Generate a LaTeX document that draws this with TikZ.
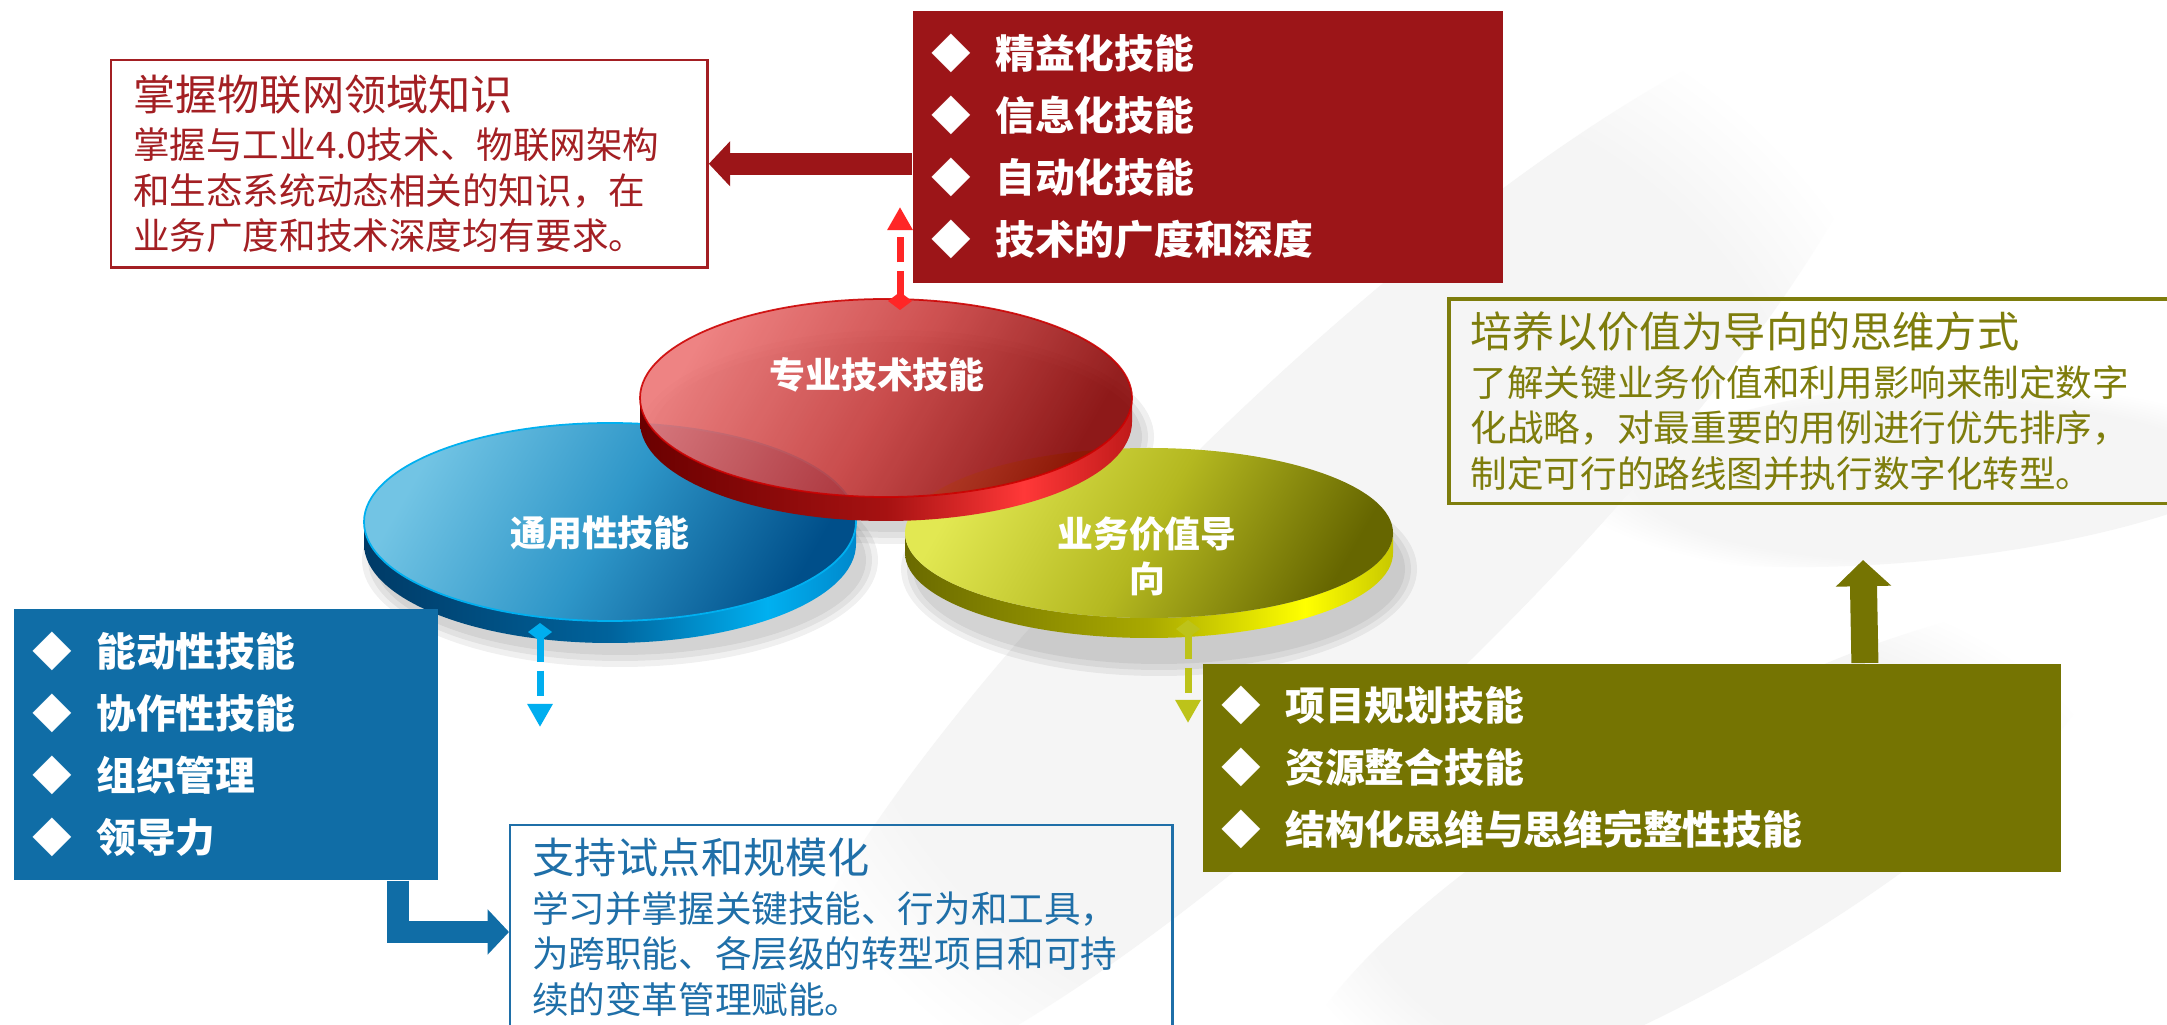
\documentclass[tikz,border=0pt]{standalone}
\usepackage{fontspec}
\setmainfont{Noto Sans CJK SC}
\usetikzlibrary{arrows.meta,calc,fadings}

\definecolor{techred}{HTML}{9C1518}
\definecolor{techline}{HTML}{A31F23}
\definecolor{techdash}{HTML}{FF2626}
\definecolor{genblue}{HTML}{106DA6}
\definecolor{genline}{HTML}{1F6FA8}
\definecolor{gendash}{HTML}{00AEEF}
\definecolor{valolive}{HTML}{757402}
\definecolor{valline}{HTML}{7E7D0C}
\definecolor{valdash}{HTML}{BDC31A}

% disc colours: face light / dark, rim dark / mid / bright / end
\definecolor{redfaceA}{HTML}{EC7272}
\definecolor{redfaceM}{HTML}{C83A3A}
\definecolor{redfaceB}{HTML}{850000}
\definecolor{redrimA}{HTML}{6A0000}
\definecolor{redrimB}{HTML}{A61212}
\definecolor{redrimC}{HTML}{FF3838}
\definecolor{redrimD}{HTML}{C01A1A}
\definecolor{bluefaceA}{HTML}{72C4E4}
\definecolor{bluefaceM}{HTML}{2E96C8}
\definecolor{bluefaceB}{HTML}{004F8A}
\definecolor{bluerimA}{HTML}{003A66}
\definecolor{bluerimB}{HTML}{00639C}
\definecolor{bluerimC}{HTML}{00B0F0}
\definecolor{bluerimD}{HTML}{0088CC}
\definecolor{olivefaceA}{HTML}{E2E852}
\definecolor{olivefaceM}{HTML}{B4B820}
\definecolor{olivefaceB}{HTML}{666600}
\definecolor{oliverimA}{HTML}{6A6A00}
\definecolor{oliverimB}{HTML}{A9A900}
\definecolor{oliverimC}{HTML}{FFFF00}
\definecolor{oliverimD}{HTML}{C8C800}

\pgfdeclarehorizontalshading{redface}{100bp}{color(0bp)=(redfaceA); color(25bp)=(redfaceA); color(50bp)=(redfaceM); color(75bp)=(redfaceB); color(100bp)=(redfaceB)}
\pgfdeclarehorizontalshading{blueface}{100bp}{color(0bp)=(bluefaceA); color(25bp)=(bluefaceA); color(50bp)=(bluefaceM); color(75bp)=(bluefaceB); color(100bp)=(bluefaceB)}
\pgfdeclarehorizontalshading{oliveface}{100bp}{color(0bp)=(olivefaceA); color(25bp)=(olivefaceA); color(50bp)=(olivefaceM); color(75bp)=(olivefaceB); color(100bp)=(olivefaceB)}
\pgfdeclarehorizontalshading{redrim}{100bp}{color(0bp)=(redrimA); color(25bp)=(redrimA); color(50bp)=(redrimB); color(64bp)=(redrimC); color(75bp)=(redrimD); color(100bp)=(redrimD)}
\pgfdeclarehorizontalshading{bluerim}{100bp}{color(0bp)=(bluerimA); color(25bp)=(bluerimA); color(50bp)=(bluerimB); color(66bp)=(bluerimC); color(75bp)=(bluerimD); color(100bp)=(bluerimD)}
\pgfdeclarehorizontalshading{oliverim}{100bp}{color(0bp)=(oliverimA); color(25bp)=(oliverimA); color(50bp)=(oliverimB); color(66bp)=(oliverimC); color(75bp)=(oliverimD); color(100bp)=(oliverimD)}

% flat disc: centre x, centre y, x radius, y radius, rim height, colour prefix, face options
\newcommand{\puck}[7]{%
  \shade[shading=#6rim] (#1-#3,#2) -- (#1-#3,#2+#5)
    arc[start angle=180,end angle=0,x radius=#3,y radius=#4] -- (#1+#3,#2)
    arc[start angle=0,end angle=180,x radius=#3,y radius=#4] -- cycle;
  \shade[shading=#6face,shading angle=-30,#7] (#1,#2) ellipse [x radius=#3,y radius=#4];
}
\newcommand{\itemmark}{◆\hspace{0.24cm}}
\newcommand{\notetitle}{\fontsize{12pt}{14pt}\selectfont}

\begin{document}
\begin{tikzpicture}[x=0.01cm,y=-0.01cm,
  itembox/.style={anchor=north west,inner xsep=0.19cm,inner ysep=0pt,align=left,
    text=white,font=\bfseries\fontsize{11.3pt}{17.6pt}\selectfont},
  notebox/.style={anchor=north west,draw,line width=0.7pt,inner xsep=0.22cm,inner ysep=0.13cm,
    align=left,font=\fontsize{10.4pt}{12.9pt}\selectfont},
  disclabel/.style={text=white,align=center,font=\bfseries\fontsize{10.2pt}{12.8pt}\selectfont},
  blockarrow/.style={line width=#1,-{Triangle[length=0pt 0.97,width=0pt 2]}},
  pinarrow/.style={line width=0.07cm,dash pattern=on 0.25cm off 0.09cm,
    {Diamond[length=0.18cm,width=0.24cm]}-{Triangle[length=0.23cm,width=0.24cm]}},
  brush/.style={fill=black!4,path fading=circle with fuzzy edge 20 percent}]
\useasboundingbox (0,0) rectangle (2167,1025);
\clip (0,0) rectangle (2167,1025);
\fill[white] (0,0) rectangle (2167,1025);

% faint brush strokes
\fill[brush,rotate around={44:(1330,560)}] (1330,560) ellipse [x radius=760,y radius=170];
\fill[brush,rotate around={6:(1930,470)}] (1930,470) ellipse [x radius=360,y radius=90];
\fill[brush,rotate around={30:(1700,860)}] (1700,860) ellipse [x radius=460,y radius=120];

% disc shadows
\foreach \cx/\cy in {610/548,1149/557,886/425}
  \foreach \s in {0,6,12}
    \fill[black,opacity=0.06] (\cx+10,\cy+12) ellipse [x radius=246+\s,y radius=95+\s];

\puck{610}{522}{246}{99}{22}{blue}{draw=bluerimC,line width=0.5pt}
\puck{1149}{533}{244}{85}{20}{olive}{}
\puck{886}{398}{246}{99}{24}{red}{opacity=0.88,draw=red!80!black,line width=0.5pt}

\node[disclabel] (techlabel) at (877,375) {专业技术技能};
\node[disclabel] (genlabel) at (600,533) {通用性技能};
\node[disclabel] (vallabel) at (1147,556) {业务价值导\\向};

% skill lists
\node[itembox,fill=techred,minimum width=5.90cm,minimum height=2.72cm,text width=5.52cm]
  (techitems) at (912,10) {\itemmark 精益化技能\\\itemmark 信息化技能\\\itemmark 自动化技能\\\itemmark 技术的广度和深度};
\node[itembox,fill=genblue,minimum width=4.24cm,minimum height=2.71cm,text width=3.86cm]
  (genitems) at (13,608) {\itemmark 能动性技能\\\itemmark 协作性技能\\\itemmark 组织管理\\\itemmark 领导力};
\node[itembox,fill=valolive,minimum width=8.58cm,minimum height=2.08cm,text width=8.20cm]
  (valitems) at (1202,663) {\itemmark 项目规划技能\\\itemmark 资源整合技能\\\itemmark 结构化思维与思维完整性技能};

% notes
\node[notebox,draw=techline,text=techline,minimum width=5.96cm,minimum height=2.07cm,text width=5.52cm]
  (techout) at (110,59) {{\notetitle 掌握物联网领域知识}\\[1pt]
  掌握与工业4.0技术、物联网架构\\和生态系统动态相关的知识，在\\业务广度和技术深度均有要求。};
\node[notebox,draw=genline,text=genline,minimum width=6.62cm,text width=6.18cm]
  (genout) at (509,824) {{\notetitle 支持试点和规模化}\\[1pt]
  学习并掌握关键技能、行为和工具，\\为跨职能、各层级的转型项目和可持\\续的变革管理赋能。};
\node[notebox,draw=valline,text=valline,line width=1pt,minimum width=8.1cm,text width=7.66cm]
  (valout) at (1447,297) {{\notetitle 培养以价值为导向的思维方式}\\[1pt]
  了解关键业务价值和利用影响来制定数字\\化战略，对最重要的用例进行优先排序，\\制定可行的路线图并执行数字化转型。};

% connectors
\coordinate (techpin) at (900,310);
\coordinate (techend) at (900,207);
\coordinate (genpin) at (540,623);
\coordinate (genend) at (540,727);
\coordinate (valpin) at (1188,620);
\coordinate (valend) at (1188,723);
\coordinate (valtip) at (1863,560);
\draw[pinarrow,techdash] (techpin) -- (techend);
\draw[pinarrow,gendash] (genpin) -- (genend);
\draw[pinarrow,valdash] (valpin) -- (valend);
\draw[blockarrow=0.22cm,techred] (techitems.west |- techout.east) -- (techout.east);
\draw[blockarrow=0.22cm,genblue] ($(genitems.south east)+(-41,0)$) |- ($(genout.north west)+(0,108)$);
\draw[blockarrow=0.27cm,valolive] ($(valitems.north east)+(-197,0)$) -- (valtip);
\end{tikzpicture}
\end{document}
